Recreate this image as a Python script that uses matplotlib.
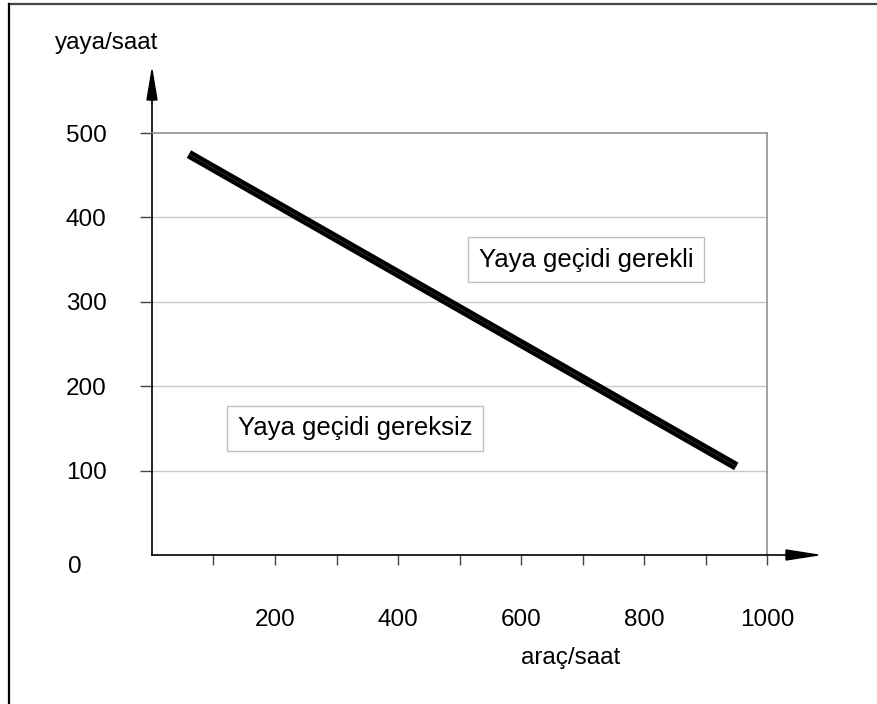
import matplotlib
matplotlib.use('Agg')
import matplotlib.pyplot as plt
from matplotlib.lines import Line2D
from matplotlib.patches import Polygon

plt.rcParams['font.family'] = ['Liberation Sans', 'DejaVu Sans']

# data
arac = [60, 950]          # araç/saat
yaya = [475, 105]         # yaya/saat
y_ticks = [100, 200, 300, 400, 500]
x_major = [200, 400, 600, 800, 1000]
x_minor = [100, 300, 500, 700, 900]
regions = ['Yaya geçidi gerekli', 'Yaya geçidi gereksiz']
region_x = [706, 330]
region_y = [350, 150]

fig = plt.figure(figsize=(8.78, 7.04), dpi=100, facecolor='white')
ax = fig.add_axes([152 / 878, 149 / 704, 615 / 878, 422 / 704])

# page frame (top and left edges only)
fig.add_artist(Line2D([9 / 878, 1], [1 - 4 / 704, 1 - 4 / 704], color='#444444', lw=1.6))
fig.add_artist(Line2D([9 / 878, 9 / 878], [0, 1 - 4 / 704], color='black', lw=1.6))

ax.set_xlim(0, 1000)
ax.set_ylim(0, 500)

# grid
for v in y_ticks[:-1]:
    ax.axhline(v, color='#c8c8c8', lw=1, zorder=1)

# boundary line
ax.plot(arac, yaya, color='black', lw=6.3, solid_capstyle='butt', zorder=3)
ax.plot(arac, yaya, color='#3a3a3a', lw=0.5, solid_capstyle='butt', zorder=4)

# region labels
for txt, x, y in zip(regions, region_x, region_y):
    ax.text(x, y, txt, ha='center', va='center', fontsize=18.5, zorder=5,
            bbox=dict(boxstyle='square,pad=0.42', facecolor='white', edgecolor='#c0c0c0', lw=1))

# spines
for s in ['left', 'bottom']:
    ax.spines[s].set_color('black')
    ax.spines[s].set_linewidth(1.2)
for s in ['top', 'right']:
    ax.spines[s].set_color('#909090')
    ax.spines[s].set_linewidth(1.2)

# ticks
ax.set_yticks(y_ticks)
ax.set_yticklabels([str(v) for v in y_ticks])
ax.set_xticks(x_major)
ax.set_xticklabels([str(v) for v in x_major])
ax.set_xticks(x_minor, minor=True)
ax.tick_params(axis='y', direction='out', length=8.6, width=1, color='#444444',
               pad=24, labelsize=17.5)
ax.tick_params(axis='x', which='both', direction='out', length=7.2, width=1,
               color='#444444', pad=32, labelsize=17.5)
ax.text(-0.125, -0.028, '0', transform=ax.transAxes, ha='center', va='center', fontsize=17.5)

# axis labels
ax.text(-0.073, 1.213, 'yaya/saat', transform=ax.transAxes, ha='center', va='center', fontsize=17.5)
ax.text(0.681, -0.244, 'araç/saat', transform=ax.transAxes, ha='center', va='center', fontsize=17.5)

# arrows on the axes
ax.plot([0, 0], [1, 1.08], color='black', lw=1.2, transform=ax.transAxes, clip_on=False)
ax.add_patch(Polygon([[0, 1 + 63 / 422], [-5 / 615, 1 + 33 / 422], [5 / 615, 1 + 33 / 422]],
                     closed=True, color='black', transform=ax.transAxes, clip_on=False))
ax.plot([1, 1.03], [0, 0], color='black', lw=1.2, transform=ax.transAxes, clip_on=False)
ax.add_patch(Polygon([[1 + 51 / 615, 0], [1 + 19 / 615, 5 / 422], [1 + 19 / 615, -5 / 422]],
                     closed=True, color='black', transform=ax.transAxes, clip_on=False))

fig.savefig('out.png', dpi=100, facecolor='white')
